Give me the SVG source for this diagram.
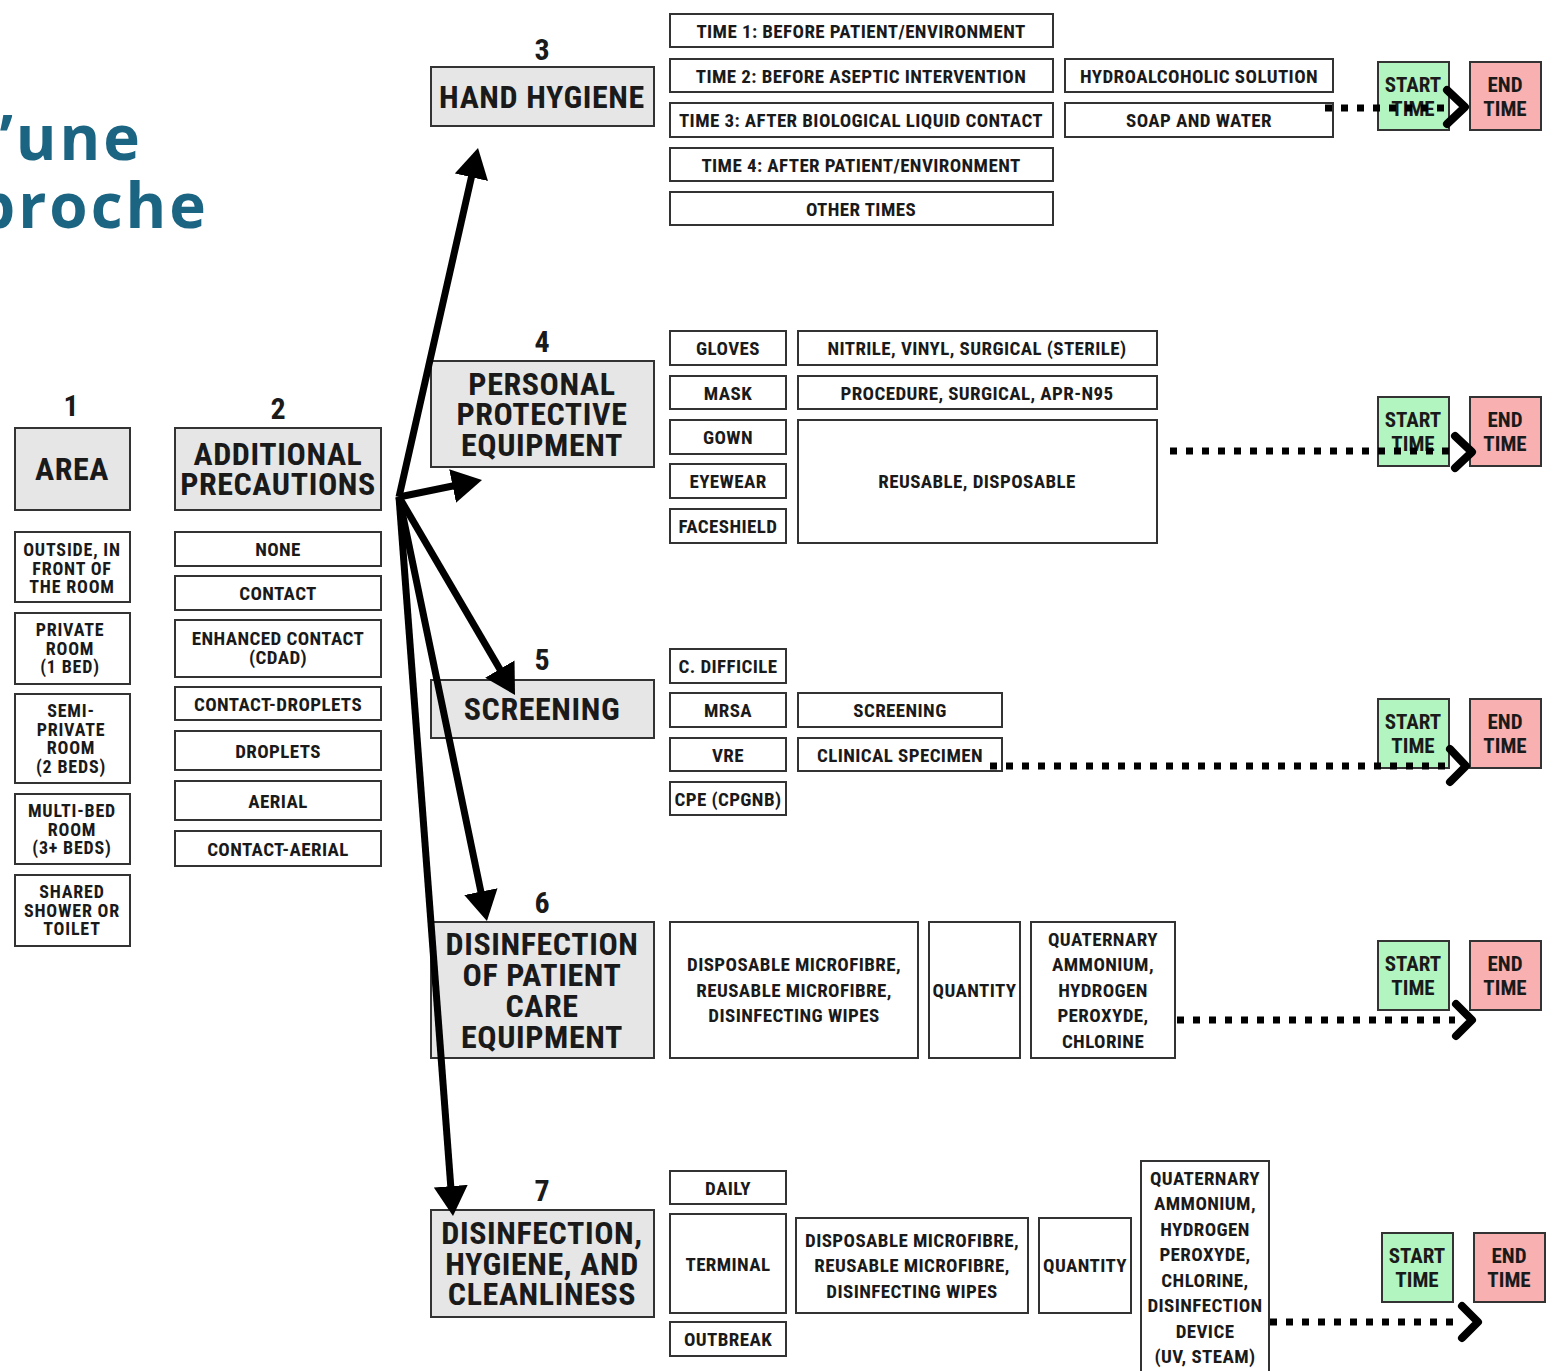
<svg xmlns="http://www.w3.org/2000/svg" width="1555" height="1371" viewBox="0 0 1555 1371">
<style>
text{font-family:"Liberation Sans Narrow","Roboto Condensed","DejaVu Sans Condensed",sans-serif;font-weight:bold;fill:#1a1a1a;text-anchor:middle}
.b{fill:#fff;stroke:#333;stroke-width:2}
.h{fill:#e6e6e6;stroke:#333;stroke-width:2}
.st{fill:#b3f5c0;stroke:#333;stroke-width:2}
.en{fill:#f8b0b0;stroke:#333;stroke-width:2}
.s{font-size:19px;letter-spacing:0.4px}
.a{font-size:18px;letter-spacing:0.8px}
.H{font-size:32px;letter-spacing:0.6px}
.n{font-size:30px}
.t{font-size:21px}
.title{font-family:"Open Sans","Noto Sans",sans-serif;font-size:62px;fill:#1c6582;text-anchor:end;letter-spacing:3px}
.pg{font-family:"Open Sans",sans-serif;font-weight:normal;font-size:30px;fill:#aaa}
.arr{stroke:#000;stroke-width:7;fill:none}
.dot{stroke:#000;stroke-width:7;fill:none;stroke-dasharray:7 9}
.chev{stroke:#000;stroke-width:8;fill:none;stroke-linecap:round;stroke-linejoin:round}
</style>
<defs>
<marker id="ah" markerUnits="userSpaceOnUse" markerWidth="30" markerHeight="34" viewBox="0 0 30 34" refX="10" refY="17" orient="auto">
<path d="M0,0 L30,17 L0,34 z" fill="#000"/>
</marker>
</defs>
<rect width="1555" height="1371" fill="#fff"/>
<g id="title">
<text class="title" x="143" y="160">’une</text>
<text class="title" x="209" y="228">proche</text>
</g>
<g id="node1">
<text class="n" x="71" y="416">1</text>
<rect class="h" x="15" y="428" width="115" height="82"/>
<text class="H" x="72" y="480">AREA</text>
<rect class="b" x="15" y="532" width="115" height="70"/>
<text class="a"><tspan x="72" y="556">OUTSIDE, IN</tspan><tspan x="72" y="574.5">FRONT OF</tspan><tspan x="72" y="593">THE ROOM</tspan></text>
<rect class="b" x="15" y="613" width="115" height="71"/>
<text class="a"><tspan x="70" y="636">PRIVATE</tspan><tspan x="70" y="654.5">ROOM</tspan><tspan x="70" y="673">(1 BED)</tspan></text>
<rect class="b" x="15" y="694" width="115" height="89"/>
<text class="a"><tspan x="71" y="717">SEMI-</tspan><tspan x="71" y="735.5">PRIVATE</tspan><tspan x="71" y="754">ROOM</tspan><tspan x="71" y="772.5">(2 BEDS)</tspan></text>
<rect class="b" x="15" y="794" width="115" height="70"/>
<text class="a"><tspan x="72" y="817">MULTI-BED</tspan><tspan x="72" y="835.5">ROOM</tspan><tspan x="72" y="854">(3+ BEDS)</tspan></text>
<rect class="b" x="15" y="875" width="115" height="71"/>
<text class="a"><tspan x="72" y="898">SHARED</tspan><tspan x="72" y="916.5">SHOWER OR</tspan><tspan x="72" y="935">TOILET</tspan></text>
</g>
<g id="node2">
<text class="n" x="278" y="419">2</text>
<rect class="h" x="175" y="428" width="206" height="82"/>
<text class="H"><tspan x="278" y="465">ADDITIONAL</tspan><tspan x="278" y="495">PRECAUTIONS</tspan></text>
<rect class="b" x="175" y="532" width="206" height="34"/>
<text class="s" x="278" y="555.5">NONE</text>
<rect class="b" x="175" y="576" width="206" height="34"/>
<text class="s" x="278" y="599.5">CONTACT</text>
<rect class="b" x="175" y="620" width="206" height="57"/>
<text class="s"><tspan x="278" y="645">ENHANCED CONTACT</tspan><tspan x="278" y="664">(CDAD)</tspan></text>
<rect class="b" x="175" y="687" width="206" height="33"/>
<text class="s" x="278" y="710.5">CONTACT-DROPLETS</text>
<rect class="b" x="175" y="731" width="206" height="39"/>
<text class="s" x="278" y="757.5">DROPLETS</text>
<rect class="b" x="175" y="781" width="206" height="39"/>
<text class="s" x="278" y="807.5">AERIAL</text>
<rect class="b" x="175" y="831" width="206" height="35"/>
<text class="s" x="278" y="855.5">CONTACT-AERIAL</text>
</g>
<g id="node3">
<text class="n" x="542" y="60">3</text>
<rect class="h" x="431" y="67" width="223" height="59"/>
<text class="H" x="542" y="108">HAND HYGIENE</text>
<rect class="b" x="670" y="14" width="383" height="33"/>
<text class="s" x="861" y="38">TIME 1: BEFORE PATIENT/ENVIRONMENT</text>
<rect class="b" x="670" y="59" width="383" height="33"/>
<text class="s" x="861" y="82.5">TIME 2: BEFORE ASEPTIC INTERVENTION</text>
<rect class="b" x="670" y="103" width="383" height="34"/>
<text class="s" x="861" y="127">TIME 3: AFTER BIOLOGICAL LIQUID CONTACT</text>
<rect class="b" x="670" y="148" width="383" height="33"/>
<text class="s" x="861" y="171.5">TIME 4: AFTER PATIENT/ENVIRONMENT</text>
<rect class="b" x="670" y="192" width="383" height="33"/>
<text class="s" x="861" y="215.5">OTHER TIMES</text>
<rect class="b" x="1065" y="59" width="268" height="33"/>
<text class="s" x="1199" y="82.5">HYDROALCOHOLIC SOLUTION</text>
<rect class="b" x="1065" y="103" width="268" height="34"/>
<text class="s" x="1199" y="127">SOAP AND WATER</text>
<rect class="st" x="1378" y="62" width="71" height="68"/>
<text class="t"><tspan x="1413" y="92">START</tspan><tspan x="1413" y="116">TIME</tspan></text>
<rect class="en" x="1470" y="62" width="71" height="68"/>
<text class="t"><tspan x="1505" y="92">END</tspan><tspan x="1505" y="116">TIME</tspan></text>
</g>
<g id="node4">
<text class="n" x="542" y="352">4</text>
<rect class="h" x="431" y="361" width="223" height="106"/>
<text class="H"><tspan x="542" y="395">PERSONAL</tspan><tspan x="542" y="425">PROTECTIVE</tspan><tspan x="542" y="456">EQUIPMENT</tspan></text>
<rect class="b" x="670" y="331" width="116" height="34"/>
<text class="s" x="728" y="355">GLOVES</text>
<rect class="b" x="670" y="376" width="116" height="33"/>
<text class="s" x="728" y="399.5">MASK</text>
<rect class="b" x="670" y="420" width="116" height="34"/>
<text class="s" x="728" y="444">GOWN</text>
<rect class="b" x="670" y="464" width="116" height="34"/>
<text class="s" x="728" y="488">EYEWEAR</text>
<rect class="b" x="670" y="509" width="116" height="34"/>
<text class="s" x="728" y="533">FACESHIELD</text>
<rect class="b" x="798" y="331" width="359" height="34"/>
<text class="s" x="977" y="355">NITRILE, VINYL, SURGICAL (STERILE)</text>
<rect class="b" x="798" y="376" width="359" height="33"/>
<text class="s" x="977" y="399.5">PROCEDURE, SURGICAL, APR-N95</text>
<rect class="b" x="798" y="420" width="359" height="123"/>
<text class="s" x="977" y="488">REUSABLE, DISPOSABLE</text>
<rect class="st" x="1378" y="397" width="71" height="69"/>
<text class="t"><tspan x="1413" y="427">START</tspan><tspan x="1413" y="451">TIME</tspan></text>
<rect class="en" x="1470" y="397" width="71" height="69"/>
<text class="t"><tspan x="1505" y="427">END</tspan><tspan x="1505" y="451">TIME</tspan></text>
</g>
<g id="node5">
<text class="n" x="542" y="670">5</text>
<rect class="h" x="431" y="680" width="223" height="58"/>
<text class="H" x="542" y="720">SCREENING</text>
<rect class="b" x="670" y="649" width="116" height="34"/>
<text class="s" x="728" y="673">C. DIFFICILE</text>
<rect class="b" x="670" y="693" width="116" height="34"/>
<text class="s" x="728" y="717">MRSA</text>
<rect class="b" x="670" y="738" width="116" height="33"/>
<text class="s" x="728" y="761.5">VRE</text>
<rect class="b" x="670" y="782" width="116" height="33"/>
<text class="s" x="728" y="805.5">CPE (CPGNB)</text>
<rect class="b" x="798" y="693" width="204" height="34"/>
<text class="s" x="900" y="717">SCREENING</text>
<rect class="b" x="798" y="738" width="204" height="33"/>
<text class="s" x="900" y="761.5">CLINICAL SPECIMEN</text>
<rect class="st" x="1378" y="699" width="71" height="69"/>
<text class="t"><tspan x="1413" y="729">START</tspan><tspan x="1413" y="753">TIME</tspan></text>
<rect class="en" x="1470" y="699" width="71" height="69"/>
<text class="t"><tspan x="1505" y="729">END</tspan><tspan x="1505" y="753">TIME</tspan></text>
</g>
<g id="node6">
<text class="n" x="542" y="913">6</text>
<rect class="h" x="431" y="922" width="223" height="136"/>
<text class="H"><tspan x="542" y="955">DISINFECTION</tspan><tspan x="542" y="986">OF PATIENT</tspan><tspan x="542" y="1017">CARE</tspan><tspan x="542" y="1048">EQUIPMENT</tspan></text>
<rect class="b" x="670" y="922" width="248" height="136"/>
<text class="s"><tspan x="794" y="971">DISPOSABLE MICROFIBRE,</tspan><tspan x="794" y="997">REUSABLE MICROFIBRE,</tspan><tspan x="794" y="1022">DISINFECTING WIPES</tspan></text>
<rect class="b" x="929" y="922" width="91" height="136"/>
<text class="s" x="974.5" y="997">QUANTITY</text>
<rect class="b" x="1031" y="922" width="144" height="136"/>
<text class="s"><tspan x="1103" y="946">QUATERNARY</tspan><tspan x="1103" y="971">AMMONIUM,</tspan><tspan x="1103" y="997">HYDROGEN</tspan><tspan x="1103" y="1022">PEROXYDE,</tspan><tspan x="1103" y="1048">CHLORINE</tspan></text>
<rect class="st" x="1378" y="941" width="71" height="69"/>
<text class="t"><tspan x="1413" y="971">START</tspan><tspan x="1413" y="995">TIME</tspan></text>
<rect class="en" x="1470" y="941" width="71" height="69"/>
<text class="t"><tspan x="1505" y="971">END</tspan><tspan x="1505" y="995">TIME</tspan></text>
</g>
<g id="node7">
<text class="n" x="542" y="1201">7</text>
<rect class="h" x="431" y="1210" width="223" height="107"/>
<text class="H"><tspan x="542" y="1244">DISINFECTION,</tspan><tspan x="542" y="1275">HYGIENE, AND</tspan><tspan x="542" y="1305">CLEANLINESS</tspan></text>
<rect class="b" x="670" y="1171" width="116" height="33"/>
<text class="s" x="728" y="1194.5">DAILY</text>
<rect class="b" x="670" y="1214" width="116" height="99"/>
<text class="s" x="728" y="1270.5">TERMINAL</text>
<rect class="b" x="670" y="1322" width="116" height="34"/>
<text class="s" x="728" y="1346">OUTBREAK</text>
<rect class="b" x="796" y="1218" width="232" height="95"/>
<text class="s"><tspan x="912" y="1247">DISPOSABLE MICROFIBRE,</tspan><tspan x="912" y="1272">REUSABLE MICROFIBRE,</tspan><tspan x="912" y="1298">DISINFECTING WIPES</tspan></text>
<rect class="b" x="1039" y="1218" width="92" height="95"/>
<text class="s" x="1085" y="1272">QUANTITY</text>
<rect class="b" x="1141" y="1161" width="128" height="220"/>
<text class="s"><tspan x="1205" y="1185">QUATERNARY</tspan><tspan x="1205" y="1210">AMMONIUM,</tspan><tspan x="1205" y="1236">HYDROGEN</tspan><tspan x="1205" y="1261">PEROXYDE,</tspan><tspan x="1205" y="1287">CHLORINE,</tspan><tspan x="1205" y="1312">DISINFECTION</tspan><tspan x="1205" y="1338">DEVICE</tspan><tspan x="1205" y="1363">(UV, STEAM)</tspan></text>
<rect class="st" x="1382" y="1233" width="71" height="69"/>
<text class="t"><tspan x="1417" y="1263">START</tspan><tspan x="1417" y="1287">TIME</tspan></text>
<rect class="en" x="1474" y="1233" width="71" height="69"/>
<text class="t"><tspan x="1509" y="1263">END</tspan><tspan x="1509" y="1287">TIME</tspan></text>
</g>
<g id="connectors">
<line class="arr" x1="399" y1="497" x2="473.6" y2="167.5" marker-end="url(#ah)"/>
<line class="arr" x1="399" y1="497" x2="462.4" y2="484" marker-end="url(#ah)"/>
<line class="arr" x1="399" y1="497" x2="504.9" y2="677.7" marker-end="url(#ah)"/>
<line class="arr" x1="399" y1="497" x2="482.9" y2="901.4" marker-end="url(#ah)"/>
<line class="arr" x1="399" y1="497" x2="451.5" y2="1196.1" marker-end="url(#ah)"/>
<line class="dot" x1="1325" y1="108" x2="1445" y2="108"/>
<polyline class="chev" points="1447,90 1465,107 1447,124"/>
<line class="dot" x1="1170" y1="451" x2="1455" y2="451"/>
<polyline class="chev" points="1455,436 1472,452 1455,468"/>
<line class="dot" x1="990" y1="766" x2="1452" y2="766"/>
<polyline class="chev" points="1450,749 1466,766 1450,782"/>
<line class="dot" x1="1177" y1="1020" x2="1455" y2="1020"/>
<polyline class="chev" points="1456,1004 1472,1020 1456,1036"/>
<line class="dot" x1="1270" y1="1322" x2="1462" y2="1322"/>
<polyline class="chev" points="1462,1306 1478,1322 1462,1338"/>
</g>
<text class="pg" x="1472" y="1392">13</text>
</svg>
